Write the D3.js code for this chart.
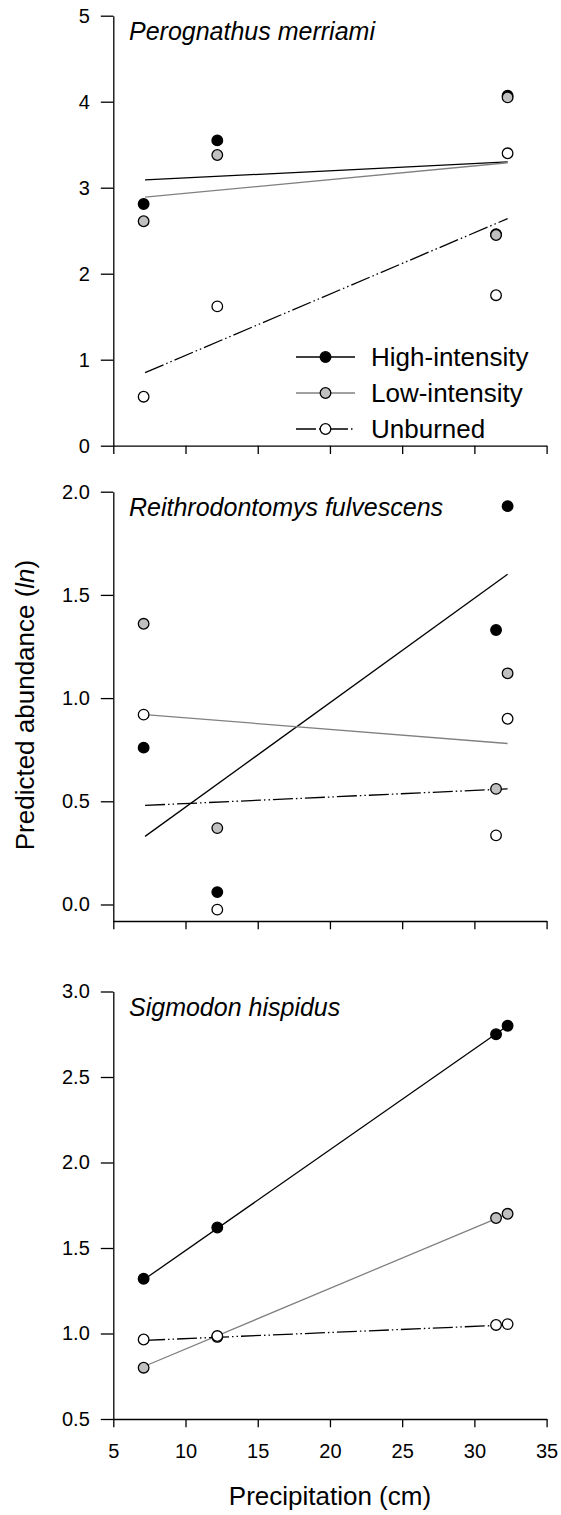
<!DOCTYPE html>
<html>
<head>
<meta charset="utf-8">
<script src="https://cdn.jsdelivr.net/npm/d3@7"></script>
<style>
  body { margin: 0; background: #fff; }
  svg { font-family: "Liberation Sans", Arial, sans-serif; }
  .tick text { font-size: 20px; fill: #000; }
  .domain, .tick line { stroke: #000; stroke-width: 1.3; }
</style>
</head>
<body>
<svg id="chart"></svg>
<script>
const WIDTH = 561
const HEIGHT = 1515
const SVG = d3.select('#chart').attr('width', WIDTH).attr('height', HEIGHT)

// values
const precip = [7.1, 12.2, 31.5, 32.3];
const fitX = [7.2, 32.3];
const groups = ['High-intensity', 'Low-intensity', 'Unburned'];
const species = ['Perognathus merriami', 'Reithrodontomys fulvescens', 'Sigmodon hispidus'];
const xTicks = [5, 10, 15, 20, 25, 30, 35];

// Perognathus merriami
const pmHigh = [2.81, 3.55, 2.46, 4.07];
const pmLow = [2.61, 3.38, 2.45, 4.05];
const pmUnburned = [0.57, 1.62, 1.75, 3.40];
const pmHighFit = [3.09, 3.30];
const pmLowFit = [2.89, 3.29];
const pmUnburnedFit = [0.85, 2.64];
const pmTicks = [0, 1, 2, 3, 4, 5];

// Reithrodontomys fulvescens
const rfHigh = [0.76, 0.06, 1.33, 1.93];
const rfLow = [1.36, 0.37, 0.56, 1.12];
const rfUnburned = [0.92, -0.025, 0.335, 0.90];
const rfHighFit = [0.33, 1.60];
const rfLowFit = [0.92, 0.78];
const rfUnburnedFit = [0.48, 0.56];
const rfTicks = [0, 0.5, 1, 1.5, 2];

// Sigmodon hispidus
const shHigh = [1.32, 1.62, 2.75, 2.80];
const shLow = [0.80, 0.98, 1.675, 1.70];
const shUnburned = [0.965, 0.985, 1.05, 1.055];
const shHighFit = [1.32, 2.80];
const shLowFit = [0.81, 1.70];
const shUnburnedFit = [0.96, 1.05];
const shTicks = [0.5, 1, 1.5, 2, 2.5, 3];

// styles per group
const FILLS = ['#000', '#c0c0c0', '#fff'];
const LINE_COLORS = ['#000', '#808080', '#000'];
const DASHES = [null, null, '20,3,1.5,3,1.5,3'];

// layout of the three stacked panels
const LEFT = 113.3, RIGHT = 546.6;
const panels = [
  { name: species[0], pts: [pmHigh, pmLow, pmUnburned], fit: [pmHighFit, pmLowFit, pmUnburnedFit],
    ticks: pmTicks, domain: [0, 5], top: 15.7, bottom: 445.7, fmt: d3.format('d'), xLabels: false, legend: true },
  { name: species[1], pts: [rfHigh, rfLow, rfUnburned], fit: [rfHighFit, rfLowFit, rfUnburnedFit],
    ticks: rfTicks, domain: [-0.08, 2], top: 491.7, bottom: 921, fmt: d3.format('.1f'), xLabels: false, legend: false },
  { name: species[2], pts: [shHigh, shLow, shUnburned], fit: [shHighFit, shLowFit, shUnburnedFit],
    ticks: shTicks, domain: [0.5, 3], top: 991.5, bottom: 1419, fmt: d3.format('.1f'), xLabels: true, legend: false }
];

let xScale = d3.scaleLinear().domain([5, 35]).range([LEFT, RIGHT]);

panels.forEach(p => {
  let yScale = d3.scaleLinear().domain(p.domain).range([p.bottom, p.top]);
  let g = SVG.append('g');

  // axes
  g.append('g')
    .attr('transform', 'translate(' + LEFT + ',0)')
    .call(d3.axisLeft(yScale).tickValues(p.ticks).tickFormat(p.fmt)
      .tickSize(12.5).tickPadding(11).tickSizeOuter(0))
    .attr('font-size', null).attr('font-family', null);

  g.append('g')
    .attr('transform', 'translate(0,' + p.bottom + ')')
    .call(d3.axisBottom(xScale).tickValues(xTicks)
      .tickFormat(p.xLabels ? d3.format('d') : '')
      .tickSize(8.3).tickPadding(16).tickSizeOuter(0))
    .attr('font-size', null).attr('font-family', null);

  // fitted lines
  let line = d3.line().x((d, i) => xScale(fitX[i])).y(d => yScale(d));
  p.fit.forEach((f, k) => {
    g.append('path')
      .attr('d', line(f))
      .attr('fill', 'none')
      .attr('stroke', LINE_COLORS[k])
      .attr('stroke-width', 1.3)
      .attr('stroke-dasharray', DASHES[k]);
  });

  // points, unburned drawn last
  p.pts.forEach((vals, k) => {
    g.selectAll(null)
      .data(vals)
      .enter()
      .append('circle')
      .attr('cx', (d, i) => xScale(precip[i]))
      .attr('cy', d => yScale(d))
      .attr('r', 5.3)
      .attr('fill', FILLS[k])
      .attr('stroke', '#000')
      .attr('stroke-width', 1.3);
  });

  g.append('text')
    .attr('x', 129)
    .attr('y', p.top + 24.5)
    .attr('font-size', 25)
    .attr('font-style', 'italic')
    .text(p.name);

  if (p.legend) {
    let rows = [357, 393, 429];
    groups.forEach((name, k) => {
      let lg = g.append('g').attr('transform', 'translate(0,' + rows[k] + ')');
      lg.append('line')
        .attr('x1', 296).attr('x2', 355)
        .attr('stroke', LINE_COLORS[k])
        .attr('stroke-width', 1.3)
        .attr('stroke-dasharray', DASHES[k]);
      lg.append('circle')
        .attr('cx', 325.5).attr('r', 5.3)
        .attr('fill', FILLS[k]).attr('stroke', '#000').attr('stroke-width', 1.3);
      lg.append('text')
        .attr('x', 371)
        .attr('dy', '0.35em')
        .attr('font-size', 26)
        .text(name);
    });
  }
});

// axis titles
let yTitle = SVG.append('text')
  .attr('transform', 'translate(33.5,705) rotate(-90)')
  .attr('text-anchor', 'middle')
  .attr('font-size', 26);
yTitle.append('tspan').text('Predicted abundance (');
yTitle.append('tspan').attr('font-style', 'italic').text('ln');
yTitle.append('tspan').text(')');

SVG.append('text')
  .attr('x', (LEFT + RIGHT) / 2)
  .attr('y', 1505)
  .attr('text-anchor', 'middle')
  .attr('font-size', 26)
  .text('Precipitation (cm)');
</script>
</body>
</html>
